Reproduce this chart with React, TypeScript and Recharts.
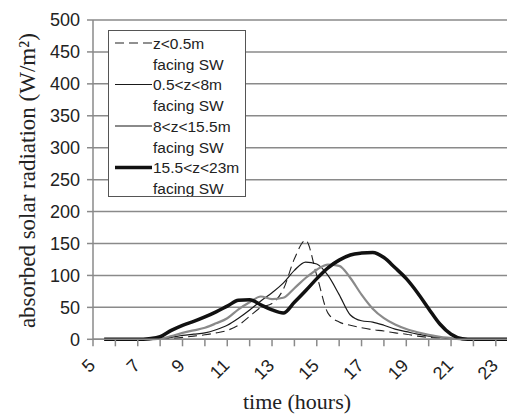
import React from "react";
import { LineChart, Line, XAxis, YAxis, CartesianGrid, Legend } from "recharts";

const hours = [5.5, 6, 6.5, 7, 7.5, 8, 8.5, 9, 9.5, 10, 10.5, 11, 11.5, 12, 12.5, 13, 13.5, 14, 14.5, 15, 15.5, 16, 16.5, 17, 17.5, 18, 18.5, 19, 19.5, 20, 20.5, 21, 21.5, 22, 22.5, 23, 23.5];

const zBelow05 = [0, 0, 0, 0, 0, 0, 1, 3, 5, 7, 10, 14, 22, 36, 50, 56, 78, 126, 155, 100, 41, 27, 22, 18, 15, 13, 10, 8, 5, 3, 2, 1, 0, 0, 0, 0, 0];
const z05to8 = [0, 0, 0, 0, 0, 1, 3, 6, 8, 10, 15, 22, 33, 46, 60, 73, 88, 108, 121, 118, 100, 70, 38, 29, 27, 22, 16, 12, 8, 5, 3, 1, 0, 0, 0, 0, 0];
const z8to155 = [0, 0, 0, 0, 0, 1, 5, 10, 14, 18, 25, 33, 47, 58, 67, 63, 65, 80, 96, 109, 117, 115, 96, 70, 48, 33, 23, 16, 11, 7, 4, 2, 0, 0, 0, 0, 0];
const z155to23 = [0, 0, 0, 0, 1, 4, 14, 22, 28, 35, 43, 52, 61, 62, 54, 46, 41, 58, 76, 95, 112, 124, 132, 135, 136, 128, 112, 95, 73, 48, 24, 8, 1, 0, 0, 0, 0];

const seriesKeys = ["s1", "s2", "s3", "s4"];
const seriesLabels = ["z<0.5m", "0.5<z<8m", "8<z<15.5m", "15.5<z<23m"];
const seriesSubLabel = "facing SW";
const seriesValues = [zBelow05, z05to8, z8to155, z155to23];

const xTicks = [5, 6, 7, 8, 9, 10, 11, 12, 13, 14, 15, 16, 17, 18, 19, 20, 21, 22, 23];
const yTicks = [0, 50, 100, 150, 200, 250, 300, 350, 400, 450, 500];

const yTitle = "absorbed solar radiation (W/m²)";
const xTitle = "time (hours)";

const seriesStyles = [
  { stroke: "#222", strokeWidth: 1.1, dash: "9 5" },
  { stroke: "#1a1a1a", strokeWidth: 1.2, dash: undefined },
  { stroke: "#8a8a8a", strokeWidth: 2.2, dash: undefined },
  { stroke: "#111", strokeWidth: 3.5, dash: undefined },
];

const data = hours.map((h, i) => {
  const row: Record<string, number> = { h };
  seriesKeys.forEach((k, j) => {
    row[k] = seriesValues[j][i];
  });
  return row;
});

const sans = "'Liberation Sans', Arial, sans-serif";
const serif = "'Liberation Serif', 'Times New Roman', serif";

const XTick = (props: any) => {
  const { x, y, payload } = props;
  const v = payload.value;
  if (v % 2 !== 1) return null;
  const ax = x - 1;
  const ay = y + 14;
  return (
    <text
      x={ax}
      y={ay}
      transform={`rotate(-45, ${ax}, ${ay})`}
      textAnchor="end"
      dominantBaseline="central"
      fontSize={18}
      fontFamily={sans}
      fill="#222"
    >
      {v}
    </text>
  );
};

const LegendBox = () => (
  <div
    style={{
      width: 136,
      height: 165,
      border: "1px solid #555",
      background: "#fff",
      boxSizing: "content-box",
    }}
  >
    <svg width={136} height={165}>
      {seriesLabels.map((lab, i) => {
        const st = seriesStyles[i];
        const cy = 12 + i * 41.5;
        return (
          <g key={lab}>
            <line
              x1={6}
              x2={43}
              y1={cy}
              y2={cy}
              stroke={st.stroke}
              strokeWidth={st.strokeWidth}
              strokeDasharray={st.dash}
            />
            <text x={44} y={cy} dominantBaseline="central" fontSize={15.5} fontFamily={sans} fill="#222">
              {lab}
            </text>
            <text x={44} y={cy + 21} dominantBaseline="central" fontSize={15.5} fontFamily={sans} fill="#222">
              {seriesSubLabel}
            </text>
          </g>
        );
      })}
    </svg>
  </div>
);

export default function App() {
  return (
    <div style={{ position: "absolute", left: 0, top: 0, width: 507, height: 418, background: "#fff" }}>
      <LineChart width={507} height={418} data={data} margin={{ top: 20, right: 0, bottom: 0, left: 0 }}>
        <CartesianGrid horizontal vertical={false} stroke="#8a8a8a" strokeWidth={1.5} />
        <XAxis
          dataKey="h"
          type="number"
          domain={[5, 23.5]}
          ticks={xTicks}
          interval={0}
          height={78.7}
          axisLine={{ stroke: "#8a8a8a", strokeWidth: 1.5 }}
          tickLine={{ stroke: "#8a8a8a", strokeWidth: 1.5 }}
          tickSize={7}
          tick={<XTick />}
          label={{
            content: (p: any) => {
              const vb = p.viewBox || { x: 93, y: 339, width: 414, height: 79 };
              return (
                <text
                  x={vb.x + vb.width / 2 - 3}
                  y={vb.y + 70}
                  textAnchor="middle"
                  fontSize={22}
                  fontFamily={serif}
                  fill="#222"
                >
                  {xTitle}
                </text>
              );
            },
          }}
        />
        <YAxis
          type="number"
          domain={[0, 500]}
          ticks={yTicks}
          interval={0}
          width={93}
          axisLine={{ stroke: "#8a8a8a", strokeWidth: 1.5 }}
          tickLine={{ stroke: "#8a8a8a", strokeWidth: 1.5 }}
          tickSize={6}
          tickMargin={7}
          tick={{ fontSize: 18, fontFamily: sans, fill: "#222" }}
          label={{
            content: (p: any) => {
              const vb = p.viewBox || { x: 0, y: 20, width: 93, height: 319 };
              const cx = 28;
              const cy = vb.y + vb.height / 2 + 1;
              return (
                <text
                  x={cx}
                  y={cy}
                  transform={`rotate(-90, ${cx}, ${cy})`}
                  textAnchor="middle"
                  dominantBaseline="central"
                  fontSize={23}
                  fontFamily={serif}
                  fill="#222"
                >
                  {yTitle}
                </text>
              );
            },
          }}
        />
        <Legend
          layout="horizontal"
          align="center"
          verticalAlign="middle"
          wrapperStyle={{ left: 108, top: 30, width: 138, height: 167 }}
          content={() => <LegendBox />}
        />
        {seriesKeys.map((k, i) => (
          <Line
            key={k}
            dataKey={k}
            name={`${seriesLabels[i]} ${seriesSubLabel}`}
            type="monotone"
            stroke={seriesStyles[i].stroke}
            strokeWidth={seriesStyles[i].strokeWidth}
            strokeDasharray={seriesStyles[i].dash}
            dot={false}
            activeDot={false}
            isAnimationActive={false}
          />
        ))}
      </LineChart>
    </div>
  );
}
